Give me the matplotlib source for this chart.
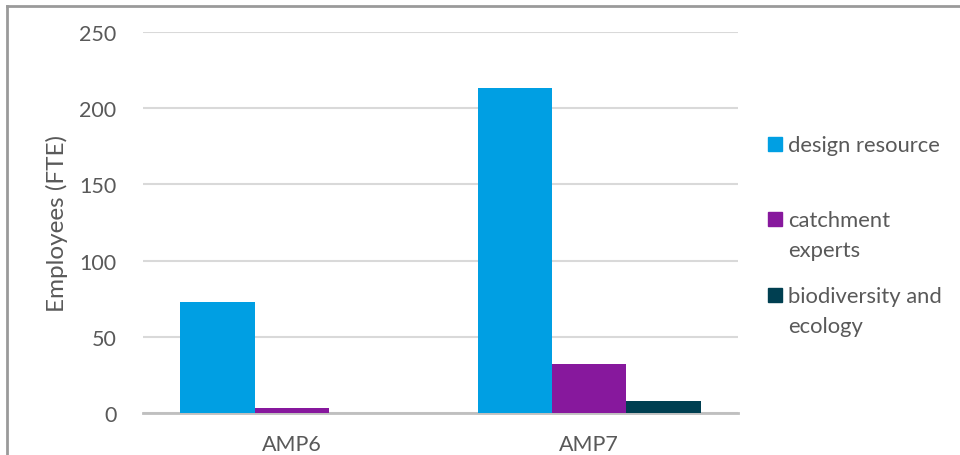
import matplotlib
matplotlib.use("Agg")
import matplotlib.pyplot as plt
from matplotlib.patches import Rectangle
from matplotlib.lines import Line2D
import numpy as np

plt.rcParams['font.family'] = ['Lato', 'DejaVu Sans']

categories = ["AMP6", "AMP7"]
series_names = ["design resource", "catchment\nexperts", "biodiversity and\necology"]
design_resource = [73, 213]
catchment_experts = [3, 32]
biodiversity_ecology = [0, 8]
series_values = [design_resource, catchment_experts, biodiversity_ecology]
colors = ["#009fe3", "#87189d", "#003f51"]
y_ticks = [0, 50, 100, 150, 200, 250]

W, H = 960, 456
fig = plt.figure(figsize=(W / 100, H / 100), dpi=100)
ax = fig.add_axes([143 / W, 1 - 414 / H, (738 - 143) / W, (414 - 33) / H])

x = np.arange(len(categories))
bar_w = 0.25
for i, (vals, col) in enumerate(zip(series_values, colors)):
    ax.bar(x + (i - 1) * bar_w, vals, width=bar_w, color=col, zorder=3)

ax.set_xlim(-0.5, len(categories) - 0.5)
ax.set_ylim(0, 250)
ax.set_yticks(y_ticks)
ax.set_xticks(x)
ax.set_xticklabels(categories)
ax.yaxis.grid(True, color="#d9d9d9", linewidth=1.5, zorder=0)
ax.set_axisbelow(True)
for s in ["top", "right", "left"]:
    ax.spines[s].set_visible(False)
ax.spines["bottom"].set_color("#bfbfbf")
ax.spines["bottom"].set_linewidth(2)
ax.tick_params(axis="both", length=0, labelsize=15.5, labelcolor="#595959")
ax.tick_params(axis="y", pad=19)
ax.tick_params(axis="x", pad=15)
ax.set_ylabel("Employees (FTE)", fontsize=17.5, color="#595959", labelpad=8)

# legend drawn to the right of the plot area
legend_y = [145, 220, 296]
for name, col, yy in zip(series_names, colors, legend_y):
    fig.add_artist(Rectangle((768 / W, 1 - (yy + 7) / H), 14 / W, 14 / H,
                             transform=fig.transFigure, color=col))
    fig.text(788 / W, 1 - (yy - 9) / H, name, fontsize=15.8, color="#595959",
             va="top", ha="left", linespacing=1.6)

# outer frame (left and top edges)
fig.add_artist(Line2D([7 / W, 7 / W], [0, 1 - 7 / H], transform=fig.transFigure,
                      color="#9a9a9a", linewidth=2))
fig.add_artist(Line2D([7 / W, 1], [1 - 7 / H, 1 - 7 / H], transform=fig.transFigure,
                      color="#9a9a9a", linewidth=2))

fig.savefig("out.png", dpi=100)
